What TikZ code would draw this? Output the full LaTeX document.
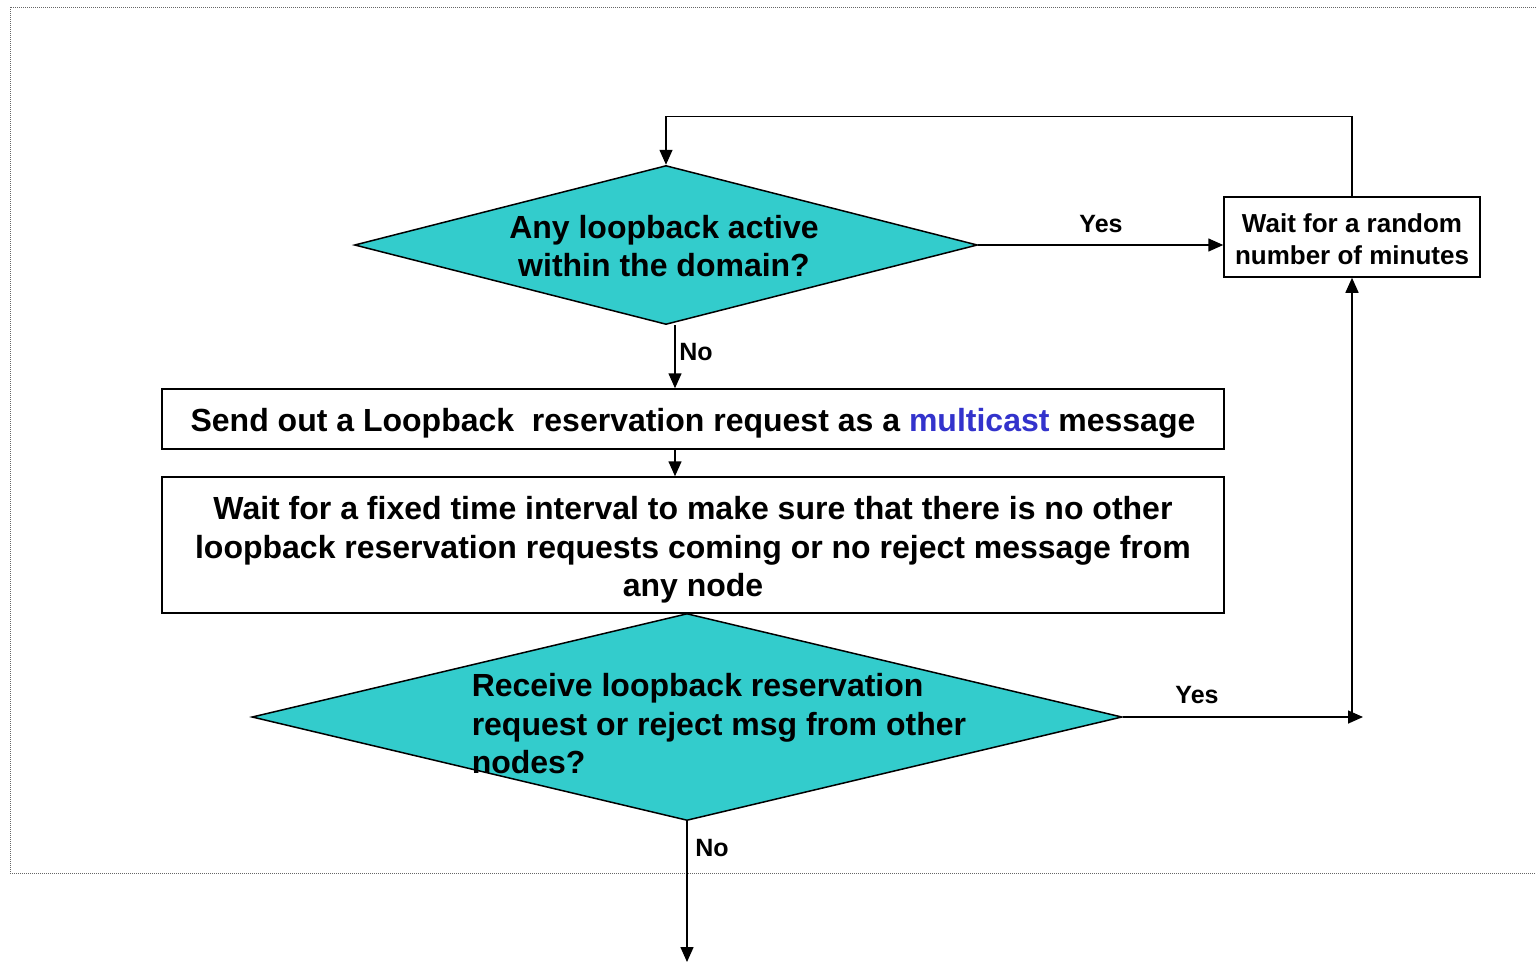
\documentclass[tikz,border=0pt]{standalone}
\usepackage{fontspec}
\setmainfont{Liberation Sans}
\usetikzlibrary{shapes.geometric,arrows.meta}
\definecolor{teal1}{HTML}{33CCCC}
\definecolor{mblue}{HTML}{3333CC}
\begin{document}
\begin{tikzpicture}[x=1pt,y=-1pt,
  line width=1.5pt,
  dia/.style={diamond, draw, fill=teal1, inner sep=0pt},
  box/.style={rectangle, draw, fill=white, inner sep=0pt},
  big/.style={font=\fontsize{32}{38.5}\selectfont\bfseries, inner sep=0pt},
  mid/.style={font=\fontsize{26}{32}\selectfont\bfseries, inner sep=0pt},
  lbl/.style={font=\fontsize{25}{30}\selectfont\bfseries, inner sep=0pt},
  arr/.style={-{Triangle[length=15pt,width=13pt]}}]
\useasboundingbox (0,0) rectangle (1536,962);
\draw[densely dotted, black!60, line width=1pt] (1536,7) -- (10,7) -- (10,873) -- (1536,873);

\node[dia, minimum width=623pt, minimum height=159pt] (d1) at (666,245) {};
\node[big, align=center] (t1) at (664,246) {Any loopback active\\within the domain?};

\node[box, minimum width=256pt, minimum height=80pt] (wait) at (1352,237) {};
\node[mid, align=center] (twait) at (1352,239) {Wait for a random\\number of minutes};

\node[box, minimum width=1062pt, minimum height=60pt] (send) at (693,419) {};
\node[big] (tsend) at (693,423) {Send out a Loopback\ \ reservation request as a \textcolor{mblue}{multicast} message};

\node[box, minimum width=1062pt, minimum height=136pt] (fixed) at (693,545) {};
\node[big, align=center] (tfixed) at (693,550) {Wait for a fixed time interval to make sure that there is no other\\loopback reservation requests coming or no reject message from\\any node};

\node[dia, minimum width=870pt, minimum height=207pt] (d2) at (687,717) {};
\node[big, align=left, anchor=west] (t2) at (471,724) {Receive loopback reservation\\request or reject msg from other\\nodes?};

% connectors
\draw[arr] (d1.east) -- (d1.east -| wait.west);
\node[lbl] (yes1) at (1101,224) {Yes};

\draw[arr] (wait.north) -- ++(0,-80) -| (d1.north);

\coordinate (n1) at (675,325);
\draw[arr] (n1) -- (n1 |- send.north);
\node[lbl] (no1) at (696,352) {No};

\draw[arr] ([xshift=-18pt]send.south) -- ([xshift=-18pt]fixed.north);

\coordinate (yesend) at (1363,717);
\coordinate (corner) at (1352,717);
\draw[arr] (d2.east) -- (yesend);
\draw[arr] (corner) -- (wait.south);
\node[lbl] (yes2) at (1197,695) {Yes};

\coordinate (bottom) at (687,962);
\draw[arr] (d2.south) -- (bottom);
\node[lbl] (no2) at (712,848) {No};
\end{tikzpicture}
\end{document}
